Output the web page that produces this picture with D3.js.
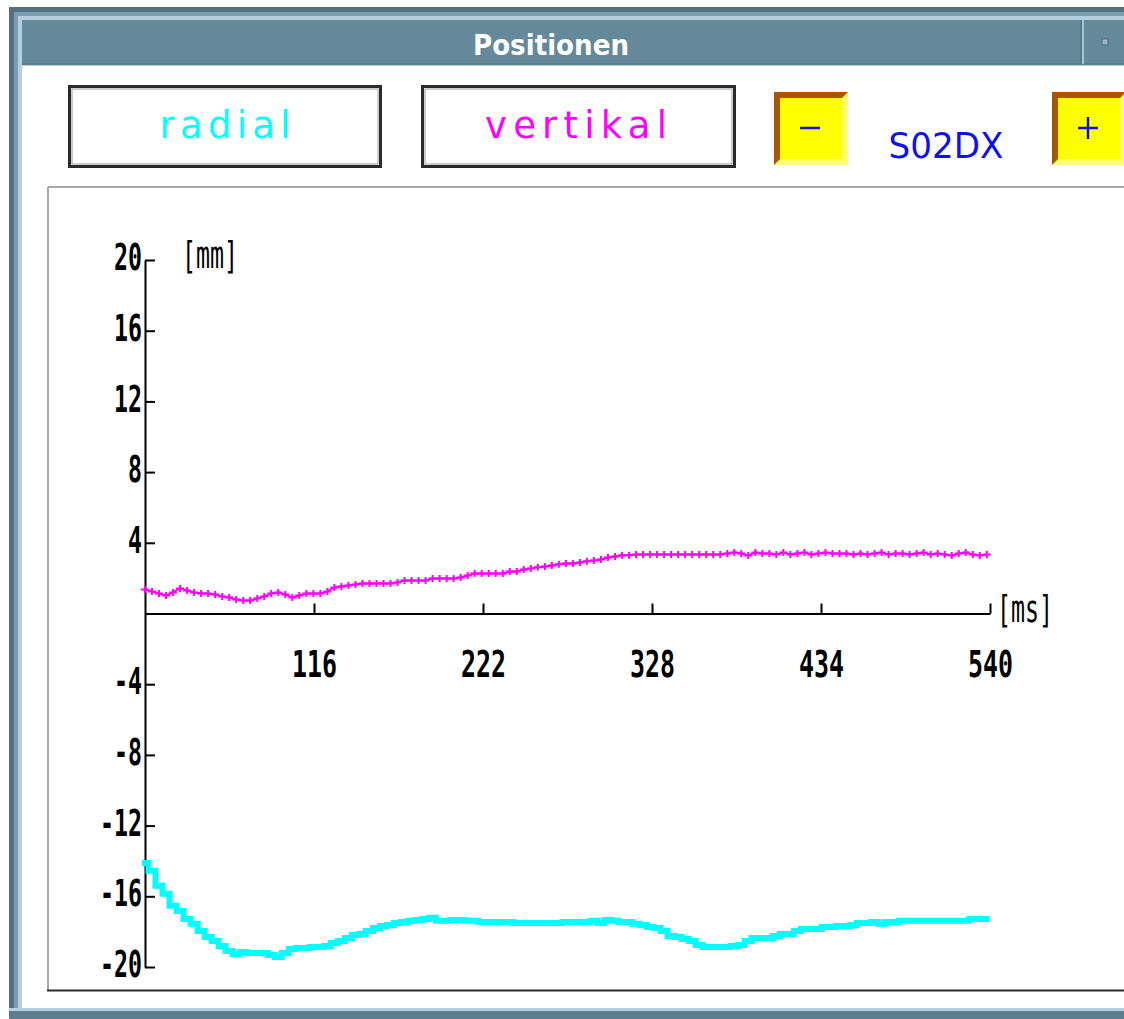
<!DOCTYPE html>
<html>
<head>
<meta charset="utf-8">
<script src="https://cdn.jsdelivr.net/npm/d3@7"></script>
<style>
  html, body { margin: 0; padding: 0; background: #ffffff; overflow: hidden; }
  svg { display: block; }
</style>
</head>
<body>
<svg id="chart" width="1124" height="1019"></svg>
<script>
// ---------------- data ----------------
const windowTitle = "Positionen";
const seriesNames = ["radial", "vertikal"];
const channelName = "S02DX";
const yUnit = "[mm]";
const xUnit = "[ms]";
const yTickValues = [-20, -16, -12, -8, -4, 4, 8, 12, 16, 20];
const xTickValues = [116, 222, 328, 434, 540];
const xDomain = [10, 540];
const yDomain = [-20, 20];

// sample times (ms) – one sample every 4.4 ms from 10 ms
const sampleTimes = d3.range(0, 121).map(i => 10 + i * 4.4);

// vertikal position (mm)
const vertikalValues = [
  1.36, 1.25, 1.13, 1.02, 1.19, 1.42, 1.30, 1.19, 1.13, 1.13,
  1.08, 0.96, 0.91, 0.79, 0.74, 0.74, 0.85, 0.96, 1.13, 1.19,
  1.08, 0.91, 1.02, 1.13, 1.13, 1.13, 1.25, 1.47, 1.53, 1.59,
  1.64, 1.70, 1.70, 1.70, 1.70, 1.70, 1.76, 1.87, 1.87, 1.87,
  1.87, 1.98, 1.98, 1.98, 1.98, 2.04, 2.15, 2.27, 2.27, 2.27,
  2.27, 2.27, 2.38, 2.38, 2.49, 2.55, 2.61, 2.66, 2.72, 2.78,
  2.83, 2.83, 2.89, 2.95, 3.00, 3.06, 3.17, 3.23, 3.29, 3.29,
  3.34, 3.34,
  3.34, 3.34, 3.34, 3.34, 3.34, 3.34, 3.34, 3.34, 3.34, 3.34,
  3.34, 3.40, 3.45, 3.40, 3.28, 3.45, 3.40, 3.40, 3.34, 3.45,
  3.34, 3.40, 3.45, 3.34, 3.40, 3.45, 3.40, 3.40, 3.40, 3.34,
  3.40, 3.34, 3.40, 3.45, 3.34, 3.40, 3.40, 3.34, 3.40, 3.45,
  3.34, 3.40, 3.34, 3.28, 3.40, 3.45, 3.34, 3.28, 3.34
];

// radial position (mm)
const radialValues = [
  -14.11, -14.56, -15.41, -15.86, -16.54, -16.83, -17.28, -17.56, -17.96, -18.30,
  -18.53, -18.81, -19.09, -19.26, -19.15, -19.21, -19.21, -19.21, -19.32, -19.43,
  -19.21, -18.98, -18.92, -18.92, -18.87, -18.87, -18.81, -18.64, -18.53, -18.36,
  -18.19, -18.13, -17.96, -17.79, -17.68, -17.62, -17.51, -17.45, -17.39, -17.34,
  -17.28, -17.22, -17.39, -17.39, -17.34, -17.34, -17.39, -17.39, -17.45, -17.45,
  -17.45, -17.45, -17.45, -17.51, -17.51, -17.51, -17.51, -17.51, -17.51, -17.51,
  -17.45, -17.45, -17.45, -17.45, -17.39, -17.51, -17.34, -17.39, -17.45, -17.45,
  -17.56, -17.62, -17.73, -17.79, -17.96, -18.24, -18.30, -18.41, -18.53, -18.75,
  -18.87, -18.87, -18.87, -18.87, -18.81, -18.75, -18.53, -18.36, -18.36, -18.36,
  -18.24, -18.13, -18.13, -17.96, -17.85, -17.85, -17.85, -17.73, -17.73, -17.68,
  -17.68, -17.62, -17.51, -17.51, -17.45, -17.56, -17.45, -17.45, -17.39, -17.39,
  -17.39, -17.39, -17.39, -17.39, -17.39, -17.39, -17.39, -17.39, -17.28, -17.28,
  -17.28
];

const colors = { radial: "#00ffff", vertikal: "#ff00ff", channel: "#1010ee" };

// ---------------- drawing ----------------
const svg = d3.select("#chart");
const W = 1124, H = 1019;

// window frame
svg.append("rect").attr("x", 0).attr("y", 0).attr("width", W).attr("height", H).attr("fill", "#ffffff");
svg.append("rect").attr("x", 9).attr("y", 7).attr("width", W - 9).attr("height", H - 7).attr("fill", "#52707f");
svg.append("rect").attr("x", 14).attr("y", 12).attr("width", W - 14).attr("height", H - 12).attr("fill", "#7e9cad");
svg.append("rect").attr("x", 18).attr("y", 16).attr("width", W - 18).attr("height", 1008 - 16 + 3).attr("fill", "#b4d0de");
// title bar
svg.append("rect").attr("x", 22).attr("y", 20).attr("width", W - 22).attr("height", 45).attr("fill", "#66889b");
svg.append("line").attr("x1", 22).attr("x2", W).attr("y1", 64).attr("y2", 64).attr("stroke", "#56788a").attr("stroke-width", 1);
svg.append("line").attr("x1", 1083).attr("x2", 1083).attr("y1", 20).attr("y2", 64).attr("stroke", "#a9c3d0").attr("stroke-width", 2);
svg.append("line").attr("x1", 1081).attr("x2", 1081).attr("y1", 20).attr("y2", 64).attr("stroke", "#4f6c7c").attr("stroke-width", 1);
svg.append("rect").attr("x", 1102).attr("y", 39).attr("width", 6).attr("height", 6).attr("fill", "#9ab4c2").attr("stroke", "#4f6c7c").attr("stroke-width", 1);
svg.append("text").attr("x", 551).attr("y", 55).attr("text-anchor", "middle")
  .attr("font-family", "DejaVu Sans").attr("font-weight", "bold").attr("font-size", 29)
  .attr("textLength", 156).attr("lengthAdjust", "spacingAndGlyphs")
  .attr("fill", "#ffffff").text(windowTitle);
// content area
svg.append("rect").attr("x", 22).attr("y", 66).attr("width", W - 22).attr("height", 1008 - 66).attr("fill", "#ffffff");
// bottom frame
svg.append("rect").attr("x", 9).attr("y", 1008).attr("width", W - 9).attr("height", 3).attr("fill", "#b4d0de");
svg.append("rect").attr("x", 9).attr("y", 1011).attr("width", W - 9).attr("height", 8).attr("fill", "#5e7d8e");

// series buttons
const btns = [
  { name: seriesNames[0], x: 68, w: 314, cx: 225, tl: 131 },
  { name: seriesNames[1], x: 421, w: 315, cx: 576, tl: 182 }
];
btns.forEach(b => {
  svg.append("rect").attr("x", b.x + 1.5).attr("y", 86.5).attr("width", b.w - 3).attr("height", 80)
    .attr("fill", "#ffffff").attr("stroke", "#2a2a2a").attr("stroke-width", 3);
  svg.append("rect").attr("x", b.x + 4).attr("y", 89).attr("width", b.w - 8).attr("height", 75)
    .attr("fill", "none").attr("stroke", "#9a9a9a").attr("stroke-width", 1);
  svg.append("text").attr("x", b.cx).attr("y", 138).attr("text-anchor", "middle")
    .attr("font-family", "DejaVu Sans").attr("font-size", 37)
    .attr("textLength", b.tl).attr("lengthAdjust", "spacing")
    .attr("fill", colors[b.name]).text(b.name);
});

// yellow +/- buttons
function bevelButton(x0, y0, w, h, symbol) {
  const b = 6, x1 = x0 + w, y1 = y0 + h;
  const g = svg.append("g");
  g.append("rect").attr("x", x0).attr("y", y0).attr("width", w).attr("height", h).attr("fill", "#ffff00");
  g.append("polygon").attr("points", [[x1, y0], [x1, y1], [x0, y1], [x0 + b, y1 - b], [x1 - b, y1 - b], [x1 - b, y0 + b]].join(" "))
    .attr("fill", "#ffff73");
  g.append("polygon").attr("points", [[x0, y0], [x1, y0], [x1 - b, y0 + b], [x0 + b, y0 + b], [x0 + b, y1 - b], [x0, y1]].join(" "))
    .attr("fill", "#a85600");
  const cx = x0 + w / 2 - 1, cy = y0 + h / 2 - 0.5;
  g.append("line").attr("x1", cx - 10).attr("x2", cx + 10).attr("y1", cy).attr("y2", cy)
    .attr("stroke", colors.channel).attr("stroke-width", 2.5);
  if (symbol === "+") {
    g.append("line").attr("x1", cx).attr("x2", cx).attr("y1", cy - 11).attr("y2", cy + 11)
      .attr("stroke", colors.channel).attr("stroke-width", 2.5);
  }
}
bevelButton(774, 92, 74, 73, "-");
bevelButton(1052, 92, 74, 73, "+");
svg.append("text").attr("x", 946).attr("y", 158).attr("text-anchor", "middle")
  .attr("font-family", "DejaVu Sans").attr("font-size", 36)
  .attr("textLength", 115).attr("lengthAdjust", "spacingAndGlyphs")
  .attr("fill", colors.channel).text(channelName);

// plot frame (sunken)
svg.append("line").attr("x1", 48).attr("x2", W).attr("y1", 187).attr("y2", 187).attr("stroke", "#a8a8a8").attr("stroke-width", 2);
svg.append("line").attr("x1", 48).attr("x2", 48).attr("y1", 187).attr("y2", 991).attr("stroke", "#a8a8a8").attr("stroke-width", 2);
svg.append("line").attr("x1", 47).attr("x2", W).attr("y1", 990.5).attr("y2", 990.5).attr("stroke", "#2a2a2a").attr("stroke-width", 2);

// scales
const x = d3.scaleLinear().domain(xDomain).range([145, 990]);
const y = d3.scaleLinear().domain(yDomain).range([967, 260]);

const tickFont = "DejaVu Sans Mono";

// y axis
const yAxisG = svg.append("g").attr("transform", `translate(${x(xDomain[0])},0)`)
  .call(d3.axisLeft(y).tickValues(yTickValues).tickFormat(d => String(d))
    .tickSizeInner(-10).tickSizeOuter(0).tickPadding(3));
yAxisG.select(".domain").attr("stroke", "#000").attr("stroke-width", 2);
yAxisG.selectAll(".tick line").attr("stroke", "#000").attr("stroke-width", 2);
yAxisG.selectAll(".tick text")
  .attr("font-family", tickFont).attr("font-weight", "bold").attr("font-size", 37)
  .attr("fill", "#000").attr("dy", "0.26em")
  .attr("textLength", d => String(d).length * 14)
  .attr("lengthAdjust", "spacingAndGlyphs");

// x axis
const xAxisG = svg.append("g").attr("transform", `translate(0,${y(0)})`)
  .call(d3.axisBottom(x).tickValues(xTickValues).tickFormat(d => String(d))
    .tickSizeInner(-10).tickSizeOuter(0).tickPadding(37));
xAxisG.select(".domain").attr("stroke", "#000").attr("stroke-width", 2);
xAxisG.selectAll(".tick line").attr("stroke", "#000").attr("stroke-width", 2);
xAxisG.selectAll(".tick text")
  .attr("font-family", tickFont).attr("font-weight", "bold").attr("font-size", 37)
  .attr("fill", "#000")
  .attr("textLength", d => String(d).length * 15)
  .attr("lengthAdjust", "spacingAndGlyphs");

// unit labels
svg.append("text").attr("x", 182).attr("y", 268)
  .attr("font-family", tickFont).attr("font-size", 38)
  .attr("textLength", 56).attr("lengthAdjust", "spacingAndGlyphs")
  .attr("fill", "#000").text(yUnit);
svg.append("text").attr("x", 997).attr("y", 622)
  .attr("font-family", tickFont).attr("font-size", 38)
  .attr("textLength", 56).attr("lengthAdjust", "spacingAndGlyphs")
  .attr("fill", "#000").text(xUnit);

// radial series (thick stepped line)
const radialLine = d3.line().x((d, i) => x(sampleTimes[i])).y(d => y(d)).curve(d3.curveStep);
svg.append("path").datum(radialValues)
  .attr("d", radialLine)
  .attr("fill", "none").attr("stroke", colors.radial).attr("stroke-width", 6)
  .attr("stroke-linecap", "square").attr("stroke-linejoin", "miter");

// vertikal series (line with + markers)
const vertLine = d3.line().x((d, i) => x(sampleTimes[i])).y(d => y(d));
svg.append("path").datum(vertikalValues)
  .attr("d", vertLine)
  .attr("fill", "none").attr("stroke", colors.vertikal).attr("stroke-width", 2);
svg.append("g").selectAll("path.m").data(vertikalValues).join("path")
  .attr("class", "m")
  .attr("transform", (d, i) => `translate(${x(sampleTimes[i])},${y(d)})`)
  .attr("d", "M-4,0H4M0,-3.5V3.5")
  .attr("fill", "none").attr("stroke", colors.vertikal).attr("stroke-width", 2);
</script>
</body>
</html>
